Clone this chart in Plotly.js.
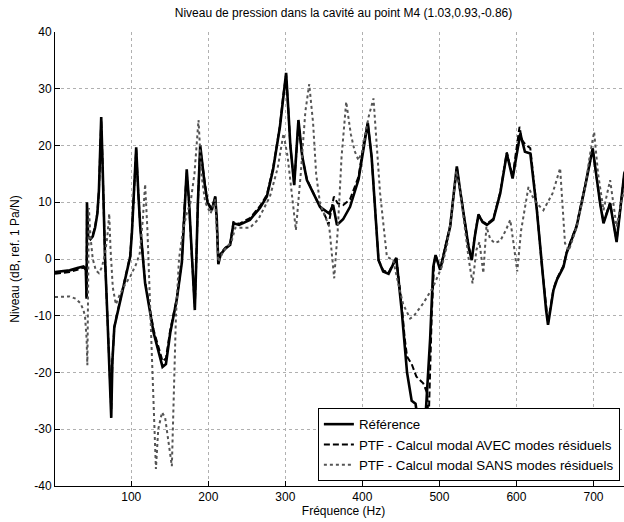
<!DOCTYPE html>
<html>
<head>
<meta charset="utf-8">
<script src="https://cdn.plot.ly/plotly-3.0.1.min.js"></script>
<style>
html,body{margin:0;padding:0;overflow:hidden;background:#fff;}
#chart{width:640px;height:522px;}
</style>
</head>
<body>
<div id="chart"></div>
<script>
// Référence
const freqRef = [1,10,20,30,38,41,42,42.5,44,47,50,53,56,58,60,61,62.5,64,66,69,72,74,75.5,78,81,90,98.6,100.8,105,106.4,109,111.6,118,129,140.6,145,150.6,159,165.7,168.7,172,175,178,181,182.5,184.5,186.5,189.5,192,195,199,204.6,209,211,213,216,222,228.4,232.7,240,254,267,276,284,293,297,301,304,306.5,311.5,317,322,328,345,357,362,367,375,384,395,402,407,412,416,421,427,434,444,451,458,464,469,476,481,485,488,492,495,501,508,514,519,522.6,527,533.4,538,542,546,550.7,556,561.6,570,579,587.5,595,605,611,618,626.5,633,638.5,641,648,652.4,661,665,678,689,699,708.6,713,721.6,730,740,748];
const levelRef = [-2.3,-2.2,-2.0,-1.6,-1.3,-1.8,-7,10,4,3.5,4,5.5,8,12,20,25,18,8,0,-10,-20,-28,-18,-12,-10.2,-4.9,0.4,4.5,14.5,19.7,12,5.7,-4.3,-13,-19,-18.5,-13,-7.2,-0.6,8.6,15.8,10,2,-6,-9,0,10,20,17,13.5,10,8.6,11,7,-0.9,0.8,1.8,2.5,6.3,6,6.9,9,11,15.7,23.3,28,32.8,26,20,13,24.5,18,13.9,9.2,8,9.5,6,7,9.2,14,20,24,18,10,-0.2,-2.2,-2.6,0.2,-9,-20,-25,-25.5,-32,-30,-20,-14,-1.4,0.7,-1.9,2,5.7,12,16.3,12,5.7,2,-0.2,4,7.8,6.5,6,6.9,11.6,18.6,14.2,22.1,18.9,18.6,8.6,-1.4,-9,-11.6,-5.5,-3.7,-1.4,1,5.7,12.7,19.5,9.8,6.3,9.8,3,15.1,18];

// PTF - Calcul modal AVEC modes résiduels
const freqAvec = [1,10,20,30,38,41,42,42.5,44,47,50,53,56,58,60,61,62.5,64,66,69,72,74,75.5,78,81,90,98.6,100.8,105,106.4,109,111.6,118,129,140.6,145,150.6,159,165.7,168.7,172,175,178,181,182.5,184.5,186.5,189.5,192,195,199,204.6,209,211,213,216,222,228.4,232.7,240,254,267,276,284,293,297,301,304,306.5,311.5,317,322,328,345,352,356,360,363,368,375,384,395,402,407,412,416,421,427,434,444,451,455,458,464,470,479,484,486,488,490,493,495,501,508,514,519,522.6,527,533.4,538,542,546,550.7,556,561.6,570,579,587.5,595,604,607,611,618,626.5,633,638.5,641,648,652.4,661,665,678,689,699,708.6,713,721.6,730,740,748];
const levelAvec = [-2.6,-2.5,-2.3,-1.9,-1.5,-1.9,-7,9.8,4,3.6,4.2,5.7,8.2,12,20,24.5,18,8,0,-10,-20,-26.5,-18,-12,-10,-4.6,0.6,4.8,14.5,19.3,12,5.9,-4,-12.5,-18,-17.5,-12.5,-7,-0.4,8.5,15.2,10,2,-6,-8.5,0,10,19.5,17,13.5,10,8.8,11,7,-0.7,1,2,2.7,6.5,6.2,7.2,9.3,11.3,16,23.5,28.5,32.5,26,20,13.2,24,18,14,9.2,7.5,6,9,11,9.8,9.5,10.5,14.5,20.5,24,18,10,-0.2,-2,-2.4,0.3,-8,-14,-17.2,-18.5,-20.7,-21.9,-23.6,-29,-20,-10,-1,0.7,-1.7,2.2,5.9,12,16.2,12,5.9,2.2,0,4.2,7.9,6.6,6.2,7.1,11.8,18.8,14.5,23.3,21,20.3,19.5,8.8,-1.2,-8.8,-11.3,-5.3,-3.5,-1.2,1.2,5.9,12.9,19.3,9.9,6.5,9.9,3.2,15,18];

// PTF - Calcul modal SANS modes résiduels
const freqSans = [1,10,20,28,34,38,40,42,43,44,45,47,50,54,58,62,66,69,71.4,73,76,80,85,92,99,106,111,115,118,121,125,129,132,135,140,144,148,152.7,155,158,162,167,172,177,182,187.3,191,196,203,209,213,220,230,235,254,265,280,290,297.6,303,308,313.7,320,326,331,336,340,345,357,363.4,368,373,379,385,390,395,400,408,414.4,418,423,431.8,440,446,453,462,467,479,492,503,509.6,516,522,527,533,538,543,548,552,557,561,566,572,579,586,592,597,601,606,615.6,621,626.5,635,647,656.7,660,663,668,678,689,695,700.8,706,713,721.6,730,736,745];
const levelSans = [-6.7,-6.6,-6.6,-7.0,-7.8,-9,-10.2,-14,-18.7,-5,9,4,0,-2,-2.5,-1.4,1,4,8,2,-5,-8,-6.3,-4.5,-3,-1,1,7,13.2,5,-10,-25,-37,-30,-27,-28,-32,-36.5,-25,-10,0,5,8,10,15,24.5,15,10,8,10.5,-0.5,1.5,3,5.5,5.5,7,11,16,22.1,18,12,5.1,15,26,30.8,24,15,9.8,5.7,-3.4,5,18,27.7,22,19,17.4,19,25,28.3,22,11.6,0.4,-0.2,-4,-8,-10.5,-10,-7.8,-4.9,-1.4,2.2,8,15.5,12,5,0,-4.3,1.6,3,-2.5,5.7,3.5,2.8,3.2,5,6.9,2,-2.2,5,12.7,11,9.8,8.6,11.6,16,10,2.8,1.5,5.5,12.5,18,22.4,15,8.6,13.9,5.7,10,15];

const seriesNames = ["Référence", "PTF - Calcul modal AVEC modes résiduels", "PTF - Calcul modal SANS modes résiduels"];
const xTicks = [100,200,300,400,500,600,700];
const yTicks = [-40,-30,-20,-10,0,10,20,30,40];

const traces = [
  {x: freqRef, y: levelRef, name: seriesNames[0], type: 'scatter', mode: 'lines',
   line: {color: '#000', width: 2.6}},
  {x: freqAvec, y: levelAvec, name: seriesNames[1], type: 'scatter', mode: 'lines',
   line: {color: '#000', width: 2, dash: '6px,3px'}},
  {x: freqSans, y: levelSans, name: seriesNames[2], type: 'scatter', mode: 'lines',
   line: {color: '#555', width: 2, dash: 'dot'}}
];

const font = {family: '"Liberation Sans", Arial, sans-serif', size: 12, color: '#000'};
const legendFont = {family: font.family, size: 13.3, color: '#000'};

const layout = {
  width: 640, height: 522,
  margin: {l: 55, r: 8, t: 32, b: 36},
  paper_bgcolor: '#fff', plot_bgcolor: '#fff',
  font: font,
  showlegend: true,
  title: {text: 'Niveau de pression dans la cavité au point M4 (1.03,0.93,-0.86)',
          font: {family: font.family, size: 12, color: '#000'},
          x: 0.5, xref: 'paper', xanchor: 'center', y: 1 - 13/522, yref: 'container', yanchor: 'middle'},
  xaxis: {range: [1, 750], tickvals: xTicks, ticktext: xTicks.map(String),
          ticks: 'inside', ticklen: 5, tickcolor: '#000', showline: true, linecolor: '#000', linewidth: 1,
          showgrid: true, gridcolor: '#b0b0b0', griddash: 'dot', gridwidth: 1, zeroline: false,
          tickfont: font, title: {text: 'Fréquence (Hz)', font: font, standoff: 3}},
  yaxis: {range: [-40, 40], tickvals: yTicks, ticktext: yTicks.map(String),
          ticks: 'inside', ticklen: 5, tickcolor: '#000', showline: true, linecolor: '#000', linewidth: 1,
          showgrid: true, gridcolor: '#b0b0b0', griddash: 'dot', gridwidth: 1, zeroline: false,
          tickfont: font, title: {text: 'Niveau (dB, ref. 1 Pa/N)', font: font, standoff: 12}},
  legend: {x: 0.979, xanchor: 'right', y: 0.011, yanchor: 'bottom',
           bgcolor: '#fff', bordercolor: '#000', borderwidth: 1, font: legendFont, tracegroupgap: 0}
};

Plotly.newPlot('chart', traces, layout, {displayModeBar: false, staticPlot: true});
</script>
</body>
</html>
